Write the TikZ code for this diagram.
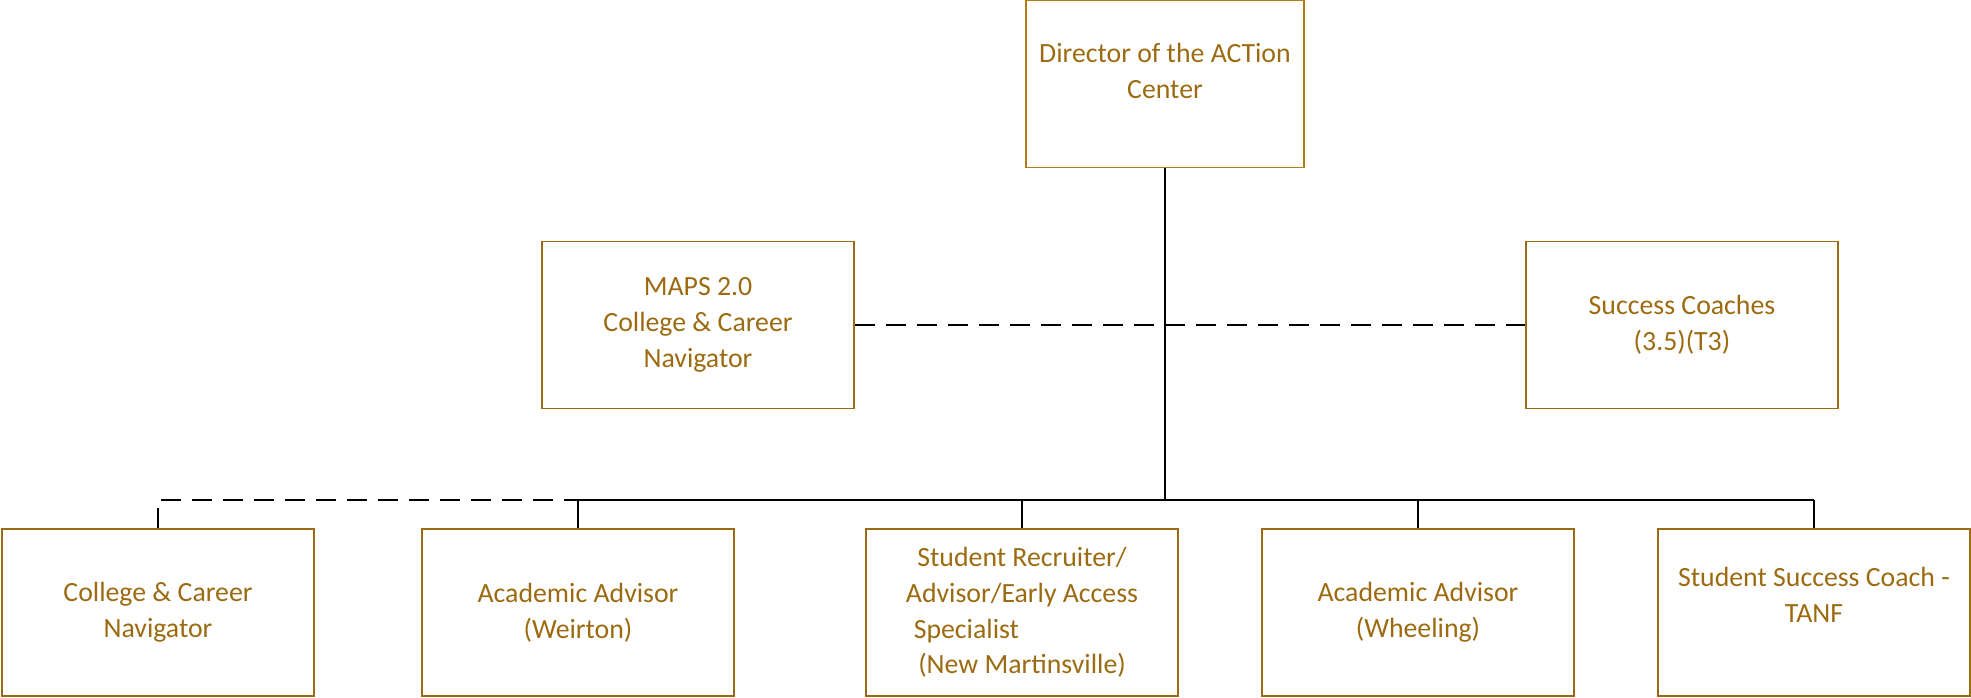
\documentclass[tikz,border=0pt]{standalone}
\usepackage{fontspec}
\setmainfont{Carlito}
\usepackage{tikz}
\usetikzlibrary{calc}
\definecolor{boxgold}{RGB}{156,107,17}
\definecolor{topgold}{RGB}{178,124,18}

\begin{document}
\begin{tikzpicture}[x=0.5pt, y=-0.5pt,
	post/.style={draw=boxgold, line width=0.95pt, text=boxgold, align=center,
		minimum width=156pt, minimum height=83.5pt, inner sep=0pt,
		font=\fontsize{13.9}{17.9}\selectfont},
	link/.style={draw=black, line width=1.35pt},
	dotlink/.style={link, dash pattern=on 10pt off 5.5pt}]
			%%%%% START %%%%%
			
			\useasboundingbox (0, 0) rectangle (1971, 697);
			
			% top
			\node[post, draw=topgold, minimum width=139pt] (dir) at (1165, 84) {Director of the ACTion\\Center\\[-5pt]\mbox{}};
			
			% middle row
			\node[post] (maps) at (698, 325) {MAPS 2.0\\College \& Career\\Navigator};
			\node[post] (coach) at (1682, 325) {Success Coaches\\(3.5)(T3)};
			
			% bottom row
			\node[post] (ccn) at (158, 612.5) {College \& Career\\Navigator};
			\node[post] (weir) at (578, 612.5) {Academic Advisor\\(Weirton)};
			\node[post] (recr) at (1022, 612.5) {Student Recruiter/\\Advisor/Early Access\\Specialist\hspace{4em}\mbox{}\\ (New Martinsville)};
			\node[post] (wheel) at (1418, 612.5) {Academic Advisor\\(Wheeling)};
			\node[post] (tanf) at (1814, 612.5) {Student Success Coach -\\TANF\\\mbox{}};
			
			\coordinate (bus) at (0, 500);
			
			% dashed links
			\draw[dotlink] (maps.east) -- (coach.west);
			\draw[dotlink] (ccn.north) -- (ccn.north |- bus) -- (weir.north |- bus);
			
			% solid links
			\draw[link] (dir.south) -- (dir.south |- bus);
			\draw[link] (weir.north |- bus) -- (tanf.north |- bus);
			\draw[link] (weir.north) -- (weir.north |- bus);
			\draw[link] (recr.north) -- (recr.north |- bus);
			\draw[link] (wheel.north) -- (wheel.north |- bus);
			\draw[link] (tanf.north) -- (tanf.north |- bus);
			
			%%%%% END %%%%%
		\end{tikzpicture}
\end{document}
